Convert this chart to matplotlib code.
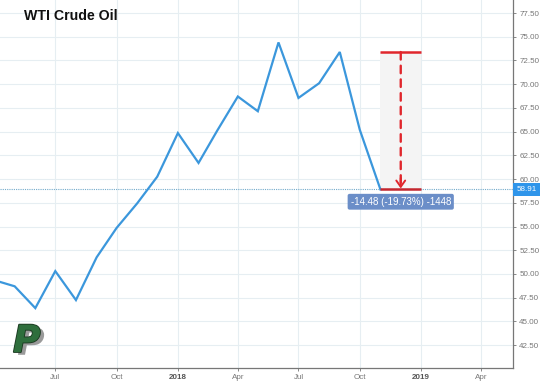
import matplotlib
matplotlib.use("Agg")
import matplotlib.pyplot as plt
import matplotlib.dates as mdates
import matplotlib.patheffects as pe
from matplotlib.patches import Rectangle
import pandas as pd

# monthly closes
MONTHS = ["2017-04-01", "2017-05-01", "2017-06-01", "2017-07-01", "2017-08-01",
          "2017-09-01", "2017-10-01", "2017-11-01", "2017-12-01", "2018-01-01",
          "2018-02-01", "2018-03-01", "2018-04-01", "2018-05-01", "2018-06-01",
          "2018-07-01", "2018-08-01", "2018-09-01", "2018-10-01", "2018-11-01"]
CLOSES = [49.33, 48.70, 46.40, 50.30, 47.25, 51.75, 54.85, 57.45, 60.25, 64.85,
          61.70, 65.10, 68.70, 67.15, 74.40, 68.55, 70.10, 73.39, 65.20, 58.91]

LAST_PRICE = 58.91
MEASURE_FROM = ("2018-09-01", 73.39)
MEASURE_TO = ("2018-11-01", 58.91)
MEASURE_BOX = ("2018-11-01", "2019-01-01")

XTICKS = ["2017-07-01", "2017-10-01", "2018-01-01", "2018-04-01", "2018-07-01",
          "2018-10-01", "2019-01-01", "2019-04-01"]
XTICK_LABELS = ["Jul", "Oct", "2018", "Apr", "Jul", "Oct", "2019", "Apr"]
YTICKS = [42.5 + 2.5 * i for i in range(15)]

LINE_BLUE = "#3b97dc"
RED = "#e0262c"
GRID = "#e6eef2"

plt.rcParams["font.family"] = ["Liberation Sans", "DejaVu Sans"]

fig = plt.figure(figsize=(5.4, 3.81), dpi=100)
ax = fig.add_axes([0, 1 - 368 / 381, 513 / 540, 368 / 381])

dates = pd.to_datetime(MONTHS)
ax.plot(dates, CLOSES, color=LINE_BLUE, lw=1.6, zorder=3, solid_joinstyle="miter")

# last price dotted line
ax.axhline(LAST_PRICE, color="#72aacb", lw=0.8, ls=(0, (1, 1)), zorder=2)

# measure tool
x0 = mdates.date2num(pd.Timestamp(MEASURE_BOX[0]))
x1 = mdates.date2num(pd.Timestamp(MEASURE_BOX[1]))
xm = (x0 + x1) / 2
top = MEASURE_FROM[1]
bot = MEASURE_TO[1]
ax.add_patch(Rectangle((x0, bot), x1 - x0, top - bot, color="#f4f4f4", lw=0, zorder=1))
ax.plot([x0, x1], [top, top], color=RED, lw=1.8, zorder=4, solid_capstyle="butt")
ax.plot([x0, x1], [bot, bot], color="#c4262e", lw=1.8, zorder=4, solid_capstyle="butt")
ax.annotate("", xy=(xm, bot + 0.15), xytext=(xm, top),
            arrowprops=dict(arrowstyle="-", color=RED, lw=1.7, ls=(0, (3.2, 2.6)),
                            shrinkA=0, shrinkB=0), zorder=4)
ax.annotate("", xy=(xm, bot + 0.1), xytext=(xm, bot + 1.2),
            arrowprops=dict(arrowstyle="->,head_length=0.45,head_width=0.32",
                            color=RED, lw=1.4, shrinkA=0, shrinkB=0), zorder=4)

diff = bot - top
pct = diff / top * 100
ax.text(xm, bot - 1.3, f"{diff:.2f} ({pct:.2f}%) {int(round(diff * 100))}",
        ha="center", va="center", color="white", fontsize=7, zorder=5,
        bbox=dict(boxstyle="round,pad=0.3,rounding_size=0.2",
                  fc="#6b8ec8", ec="none"))

# price tag on the axis
yax = ax.get_yaxis_transform()
ax.add_patch(Rectangle((1.0, LAST_PRICE - 0.68), 27 / 513, 1.36, transform=yax,
                       fc="#2f95ea", ec="none", zorder=6, clip_on=False))
ax.text(1.0 + 4 / 513, LAST_PRICE, f"{LAST_PRICE:.2f}", transform=yax,
        ha="left", va="center", color="white", fontsize=5.8, zorder=7,
        clip_on=False)

# axes
ax.set_xlim(mdates.date2num(pd.Timestamp("2017-04-09")),
            mdates.date2num(pd.Timestamp("2019-05-19")))
ax.set_ylim(40.09, 78.87)
ax.set_xticks(pd.to_datetime(XTICKS))
ax.set_xticklabels(XTICK_LABELS)
ax.set_yticks(YTICKS)
ax.set_yticklabels([f"{v:.2f}" for v in YTICKS])
ax.yaxis.tick_right()
ax.tick_params(axis="both", colors="#888888", labelcolor="#777777",
               labelsize=5.8, length=2.5, width=0.7, pad=2)
for lab in ax.get_xticklabels():
    if lab.get_text().isdigit():
        lab.set_fontweight("bold")
        lab.set_color("#555555")
ax.grid(True, color=GRID, lw=0.8, zorder=0)
ax.set_axisbelow(True)
for s in ["top", "left"]:
    ax.spines[s].set_visible(False)
for s in ["right", "bottom"]:
    ax.spines[s].set_color("#777777")
    ax.spines[s].set_linewidth(0.9)

fig.text(24 / 540, 1 - 16 / 381, "WTI Crude Oil", fontsize=10.2, fontweight="bold",
         ha="left", va="center", color="#111111")

# logo
fig.text(13 / 540, 1 - 342 / 381, "P", fontsize=27, fontweight="bold", style="italic",
         color="#2e6e3c", ha="left", va="center", family="DejaVu Sans",
         path_effects=[pe.withSimplePatchShadow(offset=(3, -2), shadow_rgbFace="#9a9a9a",
                                                alpha=1.0),
                       pe.Stroke(linewidth=1.3, foreground="#1c3a22"), pe.Normal()])

fig.savefig("out.png", dpi=100)
